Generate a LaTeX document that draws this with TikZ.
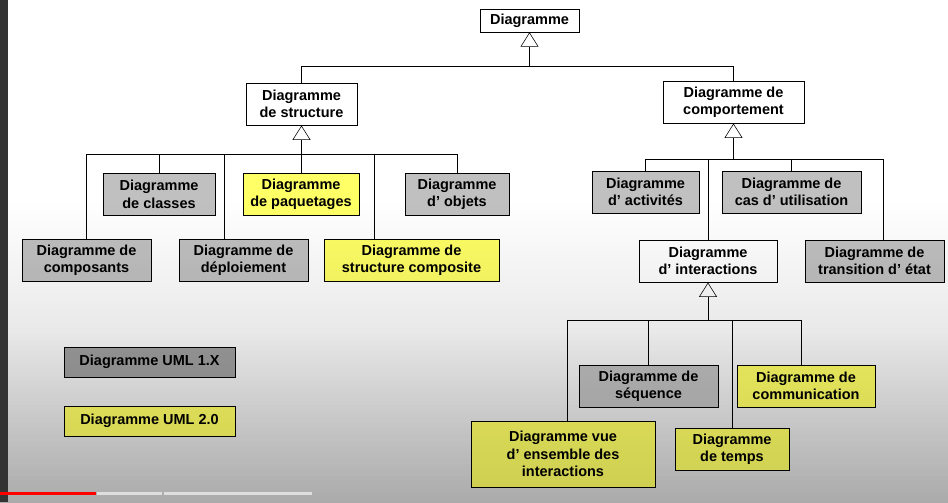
\documentclass[tikz,border=0pt]{standalone}
\usepackage{fontspec}
\setmainfont{Liberation Sans}
\usetikzlibrary{arrows.meta}
\definecolor{jaune}{HTML}{FFFF66}
\definecolor{gris}{HTML}{C0C0C0}
\definecolor{grisfonce}{HTML}{A0A0A0}
\pgfdeclareverticalshading{fond}{100bp}{color(0bp)=(black!16); color(25bp)=(black!16); color(42bp)=(white); color(100bp)=(white)}
\pgfdeclareverticalshading{voile}{100bp}{color(0bp)=(black!20); color(25bp)=(black!20); color(55bp)=(white); color(100bp)=(white)}
\tikzset{
	line width=1.5pt,
	box/.style ={draw, fill=white, align=center, inner sep=2pt, minimum height=1.06cm,
		font=\bfseries\fontsize{10.3}{12.4}\selectfont},
	gris/.style ={box, fill=gris},
	jaune/.style ={box, fill=jaune},
	herit/.style ={-{Triangle[fill=white,length=0.36cm,width=0.45cm]}}
}
\begin{document}
\begin{tikzpicture}[x=0.025cm,y=-0.025cm]

    \shade[shading=fond] (0,0) rectangle (948,502);
    \useasboundingbox (0,0) rectangle (948,502);

    \node[box, minimum width=2.475cm, minimum height=0.575cm] (diag) at (529.5,20.5) {Diagramme};

    \node[box, minimum width=2.775cm] (struct) at (301.5,104) {Diagramme\\de structure};
    \node[box, minimum width=3.525cm] (comport) at (733.5,102) {Diagramme de\\comportement};

    \node[gris, minimum width=2.8cm] (classes) at (159,194.5) {Diagramme\\de classes};
    \node[jaune, minimum width=2.9cm] (paquetages) at (301,194.5) {Diagramme\\de paquetages};
    \node[gris, minimum width=2.6cm] (objets) at (457,194.5) {Diagramme\\d’ objets};
    \node[gris, minimum width=3.225cm] (composants) at (86.5,260.5) {Diagramme de\\composants};
    \node[gris, minimum width=3.225cm] (deploiement) at (243.5,260.5) {Diagramme de\\déploiement};
    \node[jaune, minimum width=4.375cm] (composite) at (411.5,260.5) {Diagramme de\\structure composite};

    \node[gris, minimum width=2.675cm] (activites) at (645.5,192) {Diagramme\\d’ activités};
    \node[gris, minimum width=3.475cm] (cas) at (791.5,192) {Diagramme de\\cas d’ utilisation};
    \node[box, minimum width=3.45cm] (interactions) at (708,261) {Diagramme\\d’ interactions};
    \node[gris, minimum width=3.475cm] (transition) at (874.5,261) {Diagramme de\\transition d’ état};

    \node[gris, minimum width=3.475cm] (sequence) at (648.5,386) {Diagramme de\\séquence};
    \node[jaune, minimum width=3.45cm] (communication) at (806,386) {Diagramme de\\communication};
    \node[jaune, minimum width=4.6cm, minimum height=1.65cm] (vue) at (563,454) {Diagramme vue\\d’ ensemble des\\interactions};
    \node[jaune, minimum width=2.85cm] (temps) at (732,449.5) {Diagramme\\de temps};

    \node[box, fill=grisfonce, minimum width=4.275cm, minimum height=0.75cm] (umlun) at (149.5,362) {Diagramme UML 1.X};
    \node[jaune, minimum width=4.275cm, minimum height=0.75cm] (umldeux) at (149.5,421) {Diagramme UML 2.0};

    \coordinate (tbus) at (529.5,66);
    \coordinate (sbus) at (301.5,154);
    \coordinate (cbus) at (733.5,159);
    \coordinate (ibus) at (708,320);

    \draw[herit] (tbus) -- (diag.south);
    \draw (struct.north) |- (tbus);
    \draw (comport.north) |- (tbus);

    \draw[herit] (sbus) -- (struct.south);
    \draw (classes.north) |- (sbus);
    \draw (paquetages.north) |- (sbus);
    \draw (objets.north) |- (sbus);
    \draw (composants.north) |- (sbus);
    \draw ([xshift=-0.49cm]deploiement.north) |- (sbus);
    \draw ([xshift=-0.94cm]composite.north) |- (sbus);

    \draw[herit] (cbus) -- (comport.south);
    \draw (activites.north) |- (cbus);
    \draw (cas.north) |- (cbus);
    \draw (interactions.north) |- (cbus);
    \draw ([xshift=0.21cm]transition.north) |- (cbus);

    \draw[herit] (ibus) -- (interactions.south);
    \draw (sequence.north) |- (ibus);
    \draw ([xshift=-0.125cm]communication.north) |- (ibus);
    \draw ([xshift=0.1cm]vue.north) |- (ibus);
    \draw (temps.north) |- (ibus);

    \begin{scope}[blend mode=multiply]
        \shade[shading=voile] (0,0) rectangle (948,502);
    \end{scope}
    \fill[black!80] (0,0) rectangle (8,502);
    \fill[red] (0,492) rectangle (96,495);
    \fill[black!13] (97,492) rectangle (162,495);
    \fill[black!13] (164,492) rectangle (312,495);

\end{tikzpicture}
\end{document}
